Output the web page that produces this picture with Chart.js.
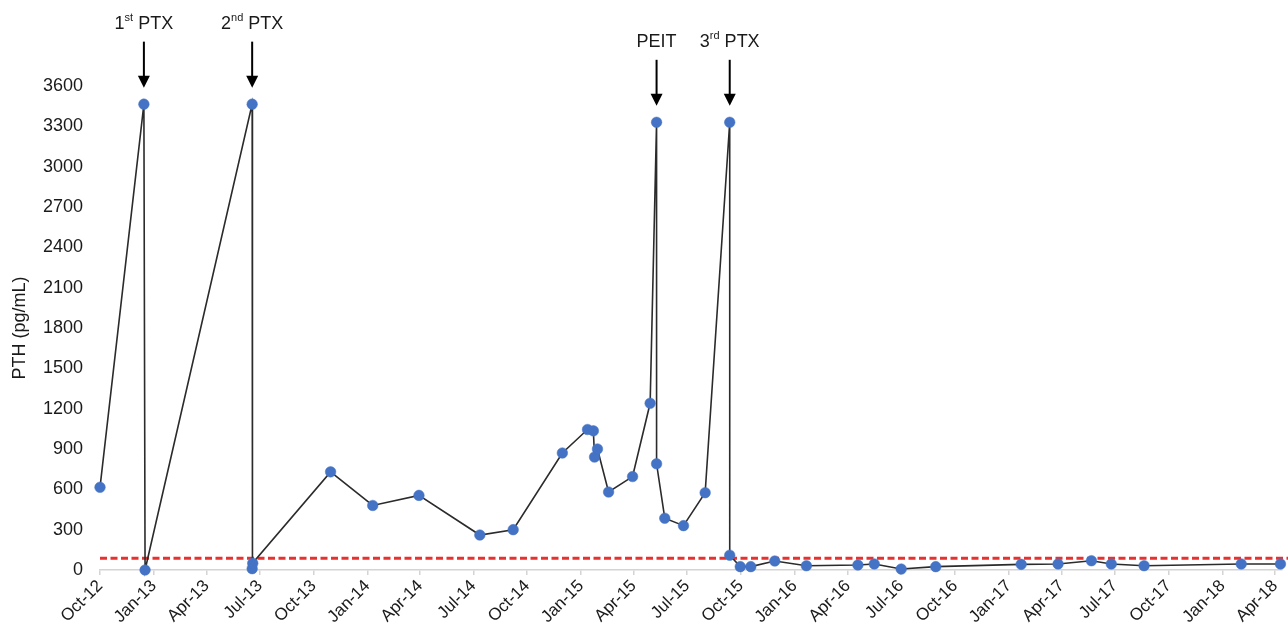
<!DOCTYPE html>
<html>
<head>
<meta charset="utf-8">
<script src="https://cdn.jsdelivr.net/npm/chart.js@4.4.1/dist/chart.umd.min.js"></script>
<style>
  html, body { margin: 0; padding: 0; background: #ffffff; }
  #wrap { width: 1288px; height: 631px; }
</style>
</head>
<body>
<div id="wrap"><canvas id="c" width="1288" height="631"></canvas></div>
<script>
// ---------- DATA ----------
const SAMPLE_DATES = [
  '2012-10-01','2012-12-15','2012-12-17','2013-06-18','2013-06-18','2013-06-19',
  '2013-10-30','2014-01-10','2014-03-30','2014-07-12','2014-09-07','2014-11-30',
  '2015-01-12','2015-01-22','2015-01-24','2015-01-29','2015-02-17','2015-03-30',
  '2015-04-29','2015-05-10','2015-05-10','2015-05-24','2015-06-25','2015-08-01',
  '2015-09-12','2015-09-12','2015-09-30','2015-10-18','2015-11-28','2016-01-21',
  '2016-04-18','2016-05-16','2016-07-01','2016-08-29','2017-01-22','2017-03-26',
  '2017-05-22','2017-06-25','2017-08-20','2018-02-02','2018-04-10'
];
const PTH_VALUES = [
  615, 3465, 0, 3465, 10, 50,
  730, 480, 555, 260, 300, 870,
  1045, 1035, 840, 900, 580, 695,
  1240, 3330, 790, 385, 330, 575,
  3330, 110, 25, 25, 67, 32,
  37, 45, 7, 25, 42, 45,
  69, 45, 32, 45, 45
];
const UPPER_LIMIT = 88;   // red dashed reference line (pg/mL)
const LIMIT_DATES = ['2012-10-01', '2018-04-23'];

const TICK_DATES = [
  '2012-10-01','2013-01-01','2013-04-01','2013-07-01','2013-10-01','2014-01-01',
  '2014-04-01','2014-07-01','2014-10-01','2015-01-01','2015-04-01','2015-07-01',
  '2015-10-01','2016-01-01','2016-04-01','2016-07-01','2016-10-01','2017-01-01',
  '2017-04-01','2017-07-01','2017-10-01','2018-01-01','2018-04-01'
];
const TICK_LABELS = [
  'Oct-12','Jan-13','Apr-13','Jul-13','Oct-13','Jan-14','Apr-14','Jul-14','Oct-14',
  'Jan-15','Apr-15','Jul-15','Oct-15','Jan-16','Apr-16','Jul-16','Oct-16','Jan-17',
  'Apr-17','Jul-17','Oct-17','Jan-18','Apr-18'
];
const X_END_DATE = '2018-04-13';
const Y_MIN = 0, Y_MAX = 3600, Y_STEP = 300;

// events: [base text, superscript, rest], pointing at a sample index
const EVENT_TEXT = [['1','st',' PTX'], ['2','nd',' PTX'], ['PEIT','',''], ['3','rd',' PTX']];
const EVENT_POINT = [1, 3, 19, 24];

// ---------- HELPERS ----------
const ORIGIN = Date.UTC(2012, 9, 1);
function toDay(iso) {
  const p = iso.split('-').map(Number);
  return (Date.UTC(p[0], p[1] - 1, p[2]) - ORIGIN) / 86400000;
}
const FONT = 'Liberation Sans, Arial, Helvetica, sans-serif';
const TEXT_COLOR = '#1a1a1a';

const points = SAMPLE_DATES.map((d, i) => ({ x: toDay(d), y: PTH_VALUES[i] }));
const xMin = toDay(TICK_DATES[0]);
const xMax = toDay(X_END_DATE);
const limitLine = LIMIT_DATES.map(d => ({ x: toDay(d), y: UPPER_LIMIT }));

const eventPlugin = {
  id: 'events',
  afterDatasetsDraw(chart) {
    const ctx = chart.ctx;
    const meta = chart.getDatasetMeta(1);
    ctx.save();
    EVENT_POINT.forEach((idx, k) => {
      const el = meta.data[idx];
      const x = el.x;
      const tip = el.y - 16.5;
      const top = tip - 46;
      ctx.strokeStyle = '#000';
      ctx.lineWidth = 2;
      ctx.beginPath();
      ctx.moveTo(x, top);
      ctx.lineTo(x, tip - 10);
      ctx.stroke();
      ctx.fillStyle = '#000';
      ctx.beginPath();
      ctx.moveTo(x - 6, tip - 12);
      ctx.lineTo(x + 6, tip - 12);
      ctx.lineTo(x, tip);
      ctx.closePath();
      ctx.fill();
      const t = EVENT_TEXT[k];
      const yText = top - 17.5;
      ctx.fillStyle = TEXT_COLOR;
      ctx.textBaseline = 'middle';
      ctx.textAlign = 'left';
      const big = '18px ' + FONT, small = '11px ' + FONT;
      ctx.font = big; const w1 = ctx.measureText(t[0]).width;
      ctx.font = small; const w2 = ctx.measureText(t[1]).width;
      ctx.font = big; const w3 = ctx.measureText(t[2]).width;
      let sx = x - (w1 + w2 + w3) / 2;
      ctx.font = big; ctx.fillText(t[0], sx, yText); sx += w1;
      ctx.font = small; ctx.fillText(t[1], sx, yText - 6); sx += w2;
      ctx.font = big; ctx.fillText(t[2], sx, yText);
    });
    ctx.restore();
  }
};

new Chart(document.getElementById('c'), {
  type: 'line',
  data: {
    datasets: [
      {
        label: 'limit',
        data: limitLine,
        borderColor: '#E8302F',
        borderWidth: 3,
        borderDash: [7, 3.5],
        pointRadius: 0,
        fill: false,
        clip: false,
        order: 2
      },
      {
        label: 'PTH',
        data: points,
        borderColor: '#2b2b2b',
        borderWidth: 1.6,
        pointRadius: 5.3,
        pointBackgroundColor: '#4472C4',
        pointBorderColor: '#4472C4',
        pointBorderWidth: 0.5,
        tension: 0,
        fill: false,
        clip: false,
        order: 1
      }
    ]
  },
  options: {
    responsive: false,
    animation: false,
    devicePixelRatio: 1,
    layout: { padding: { top: 86, right: 0, left: 0, bottom: 0 } },
    plugins: { legend: { display: false }, tooltip: { enabled: false } },
    scales: {
      x: {
        type: 'linear',
        min: xMin,
        max: xMax,
        afterBuildTicks(axis) { axis.ticks = TICK_DATES.map(d => ({ value: toDay(d) })); },
        afterFit(axis) { axis.height = 61; axis.paddingRight = 0; axis.paddingLeft = 0; },
        grid: { drawOnChartArea: false, drawTicks: true, tickLength: 5, color: '#d4d4d4', lineWidth: 1.5 },
        border: { display: true, color: '#d4d4d4', width: 1.5 },
        ticks: {
          autoSkip: false,
          minRotation: 45,
          maxRotation: 45,
          padding: 1,
          color: TEXT_COLOR,
          font: { family: FONT, size: 17 },
          callback: (v, i) => TICK_LABELS[i]
        }
      },
      y: {
        min: Y_MIN,
        max: Y_MAX,
        afterFit(axis) { axis.width = 100; },
        grid: { display: false, drawTicks: false },
        border: { display: false },
        ticks: {
          stepSize: Y_STEP,
          padding: 17,
          color: TEXT_COLOR,
          font: { family: FONT, size: 18 },
          callback: v => String(v)
        },
        title: {
          display: true,
          text: 'PTH (pg/mL)',
          color: TEXT_COLOR,
          font: { family: FONT, size: 18 },
          padding: { top: 9, bottom: 0 }
        }
      }
    }
  },
  plugins: [eventPlugin]
});
</script>
</body>
</html>
